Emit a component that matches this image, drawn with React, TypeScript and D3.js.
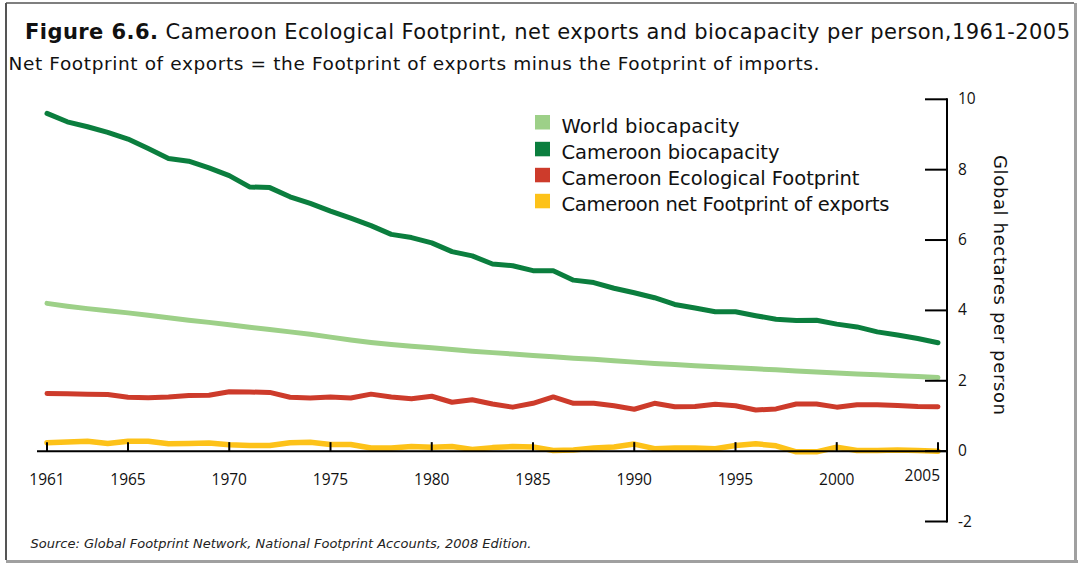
import React from "react";
import * as d3 from "d3";

const years: number[] = d3.range(1961, 2006);
const worldBiocapacity = [4.20,4.12,4.05,3.99,3.93,3.86,3.79,3.72,3.66,3.59,3.52,3.46,3.39,3.32,3.24,3.16,3.09,3.03,2.98,2.94,2.89,2.84,2.80,2.76,2.72,2.68,2.64,2.61,2.57,2.53,2.49,2.46,2.43,2.40,2.37,2.34,2.31,2.28,2.25,2.22,2.19,2.17,2.14,2.12,2.09];
const cameroonBiocapacity = [9.60,9.36,9.22,9.06,8.87,8.60,8.32,8.24,8.05,7.83,7.51,7.49,7.23,7.04,6.82,6.62,6.41,6.16,6.07,5.92,5.67,5.55,5.32,5.27,5.13,5.13,4.86,4.79,4.63,4.50,4.36,4.17,4.07,3.96,3.96,3.85,3.75,3.71,3.72,3.61,3.53,3.39,3.30,3.20,3.08];
const cameroonFootprint = [1.64,1.63,1.62,1.61,1.53,1.52,1.54,1.58,1.59,1.69,1.68,1.67,1.53,1.51,1.54,1.51,1.62,1.54,1.49,1.56,1.39,1.46,1.34,1.25,1.36,1.54,1.36,1.36,1.29,1.19,1.36,1.26,1.27,1.33,1.29,1.17,1.20,1.34,1.34,1.25,1.32,1.32,1.30,1.27,1.26];
const netExports = [0.24,0.26,0.28,0.22,0.28,0.28,0.21,0.22,0.23,0.18,0.16,0.16,0.24,0.25,0.19,0.19,0.09,0.09,0.13,0.11,0.13,0.05,0.10,0.13,0.12,0.02,0.03,0.09,0.12,0.20,0.07,0.09,0.09,0.07,0.16,0.21,0.15,-0.02,-0.02,0.11,0.02,0.02,0.03,0.02,0.00];

const xTickYears = [1961, 1965, 1970, 1975, 1980, 1985, 1990, 1995, 2000, 2005];
const yTickValues = [-2, 0, 2, 4, 6, 8, 10];

const seriesNames = ["World biocapacity", "Cameroon biocapacity", "Cameroon Ecological Footprint", "Cameroon net Footprint of exports"];
const seriesColors = ["#9dd088", "#0b7e3e", "#cd3b2b", "#fdc219"];
const seriesData = [worldBiocapacity, cameroonBiocapacity, cameroonFootprint, netExports];
const legendWidths = [178, 218, 298, 328];

const WIDE = "'DejaVu Sans', 'Open Sans', sans-serif";
const NARROW = "'Open Sans', 'DejaVu Sans', sans-serif";

export default function App() {
  const W = 1078, H = 563;
  const x = d3.scaleLinear().domain([1961, 2005]).range([47, 938]);
  const y = d3.scaleLinear().domain([-2, 10]).range([521.5, 99.3]);
  const axisX = 947;
  const line = d3.line<number>().x((_, i) => x(years[i])).y((d) => y(d));

  return (
    <svg width={W} height={H} style={{ position: "absolute", left: 0, top: 0, display: "block", background: "#fff" }} fontFamily={WIDE}>
      {/* frame */}
      <rect x={0} y={0} width={W} height={H} fill="#fff" />
      <line x1={6} y1={3} x2={6} y2={560} stroke="#555" strokeWidth={2} />
      <line x1={6} y1={3} x2={1074} y2={3} stroke="#555" strokeWidth={1.5} />
      <line x1={1075.5} y1={3} x2={1075.5} y2={563} stroke="#a0a0a0" strokeWidth={3} />
      <line x1={6} y1={561.5} x2={1078} y2={561.5} stroke="#a0a0a0" strokeWidth={3} />

      {/* title */}
      <text x={25} y={38.5} fontSize={21} fill="#111" textLength={1045} lengthAdjust="spacing">
        <tspan fontWeight="bold">Figure 6.6.</tspan>
        <tspan> Cameroon Ecological Footprint, net exports and biocapacity per person,1961-2005</tspan>
      </text>
      <text x={8.5} y={70} fontSize={18.5} fill="#111" textLength={811} lengthAdjust="spacing">
        Net Footprint of exports = the Footprint of exports minus the Footprint of imports.
      </text>

      {/* series lines */}
      {seriesData.map((s, i) => (
        <path key={i} d={line(s) || ""} fill="none" stroke={seriesColors[i]} strokeWidth={i === 3 ? 5.5 : 5} strokeLinejoin="round" strokeLinecap="round" />
      ))}

      {/* x axis */}
      <line x1={37} y1={y(0)} x2={axisX} y2={y(0)} stroke="#000" strokeWidth={2} />
      {xTickYears.map((yr) => (
        <line key={yr} x1={x(yr)} x2={x(yr)} y1={y(0)} y2={y(0) - 9} stroke="#000" strokeWidth={2} />
      ))}
      {xTickYears.map((yr) => (
        <text key={"l" + yr} x={yr === 2005 ? x(yr) + 2 : x(yr)} y={yr === 2005 ? 481 : 485} fontSize={15.5} fontFamily={NARROW} textAnchor={yr === 2005 ? "end" : "middle"} fill="#111">
          {yr}
        </text>
      ))}

      {/* right y axis */}
      <line x1={axisX} x2={axisX} y1={y(10) - 1} y2={y(-2) + 1} stroke="#000" strokeWidth={2} />
      {yTickValues.map((v) => (
        <line key={v} x1={925} x2={axisX} y1={y(v)} y2={y(v)} stroke="#000" strokeWidth={2} />
      ))}
      {yTickValues.map((v) => (
        <text key={"t" + v} x={958} y={y(v) + 5} fontSize={15.5} fontFamily={NARROW} fill="#111">
          {v}
        </text>
      ))}
      <text transform={`translate(994, 285) rotate(90)`} fontSize={18} textAnchor="middle" fill="#111" textLength={260} lengthAdjust="spacing">
        Global hectares per person
      </text>

      {/* legend */}
      {seriesNames.map((name, i) => {
        const base = [132.5, 159.3, 185.3, 211.3][i];
        return (
          <g key={name}>
            <rect x={535} y={base - 17.5} width={15} height={14.5} fill={seriesColors[i]} />
            <text x={561.5} y={base} fontSize={19.5} fill="#111" textLength={legendWidths[i]} lengthAdjust="spacing">
              {name}
            </text>
          </g>
        );
      })}

      {/* source */}
      <text x={30.5} y={547.5} fontSize={13} fontStyle="italic" fill="#222" textLength={501} lengthAdjust="spacing">
        Source: Global Footprint Network, National Footprint Accounts, 2008 Edition.
      </text>
    </svg>
  );
}
